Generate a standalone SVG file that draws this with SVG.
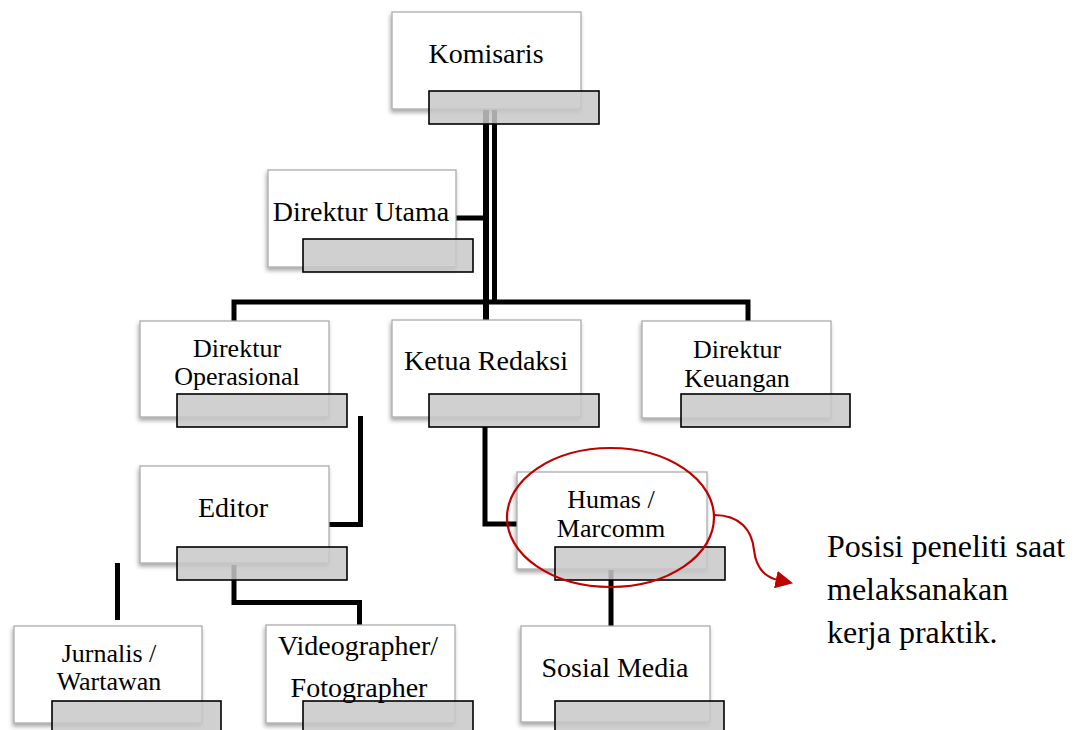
<svg xmlns="http://www.w3.org/2000/svg" width="1086" height="730" viewBox="0 0 1086 730">
<defs>
<filter id="sh" x="-10%" y="-10%" width="120%" height="125%">
<feDropShadow dx="-1" dy="3" stdDeviation="2" flood-color="#000" flood-opacity="0.35"/>
</filter>
<marker id="arr" markerWidth="8" markerHeight="8" refX="1" refY="4" orient="auto" markerUnits="strokeWidth">
<path d="M0,0 L8,4 L0,8 Z" fill="#c00000"/>
</marker>
<style>
.box{fill:#fff;stroke:#a6a6a6;stroke-width:1.2;filter:url(#sh)}
.sub{fill:#c8c8c8;fill-opacity:0.85;stroke:#000;stroke-width:1.6}
.t{font-family:"Liberation Serif","Times New Roman",serif;font-size:28px;fill:#000;text-anchor:middle}
.t2{font-size:26px}
.c{fill:none;stroke:#000;stroke-width:5}
.note{font-family:"Liberation Serif","Times New Roman",serif;font-size:32px;fill:#000}
</style>
</defs>
<rect width="1086" height="730" fill="#fff"/>
<g id="connectors">
<line class="c" x1="486" y1="110" x2="486" y2="320" style="stroke-width:6"/>
<line class="c" x1="494.5" y1="110" x2="494.5" y2="303"/>
<line class="c" x1="456" y1="218" x2="489" y2="218"/>
<path class="c" d="M234,321 V302 H748 V321"/>
<path class="c" d="M329,524.5 H360.5 V416"/>
<path class="c" d="M234,565 V602.5 H359.5 V625"/>
<line class="c" x1="117.5" y1="563" x2="117.5" y2="620"/>
<path class="c" d="M485,427 V524 H517"/>
<line class="c" x1="611" y1="570" x2="611" y2="626"/>
</g>
<g id="komisaris">
<rect class="box" x="392" y="12" width="189" height="97"/>
<rect class="sub" x="429" y="91" width="170" height="33"/>
<text class="t" x="486" y="63">Komisaris</text>
</g>
<g id="direktur-utama">
<rect class="box" x="268" y="170" width="188" height="97"/>
<rect class="sub" x="303" y="239" width="170" height="33"/>
<text class="t" x="361" y="221">Direktur Utama</text>
</g>
<g id="direktur-operasional">
<rect class="box" x="140" y="321" width="189" height="96"/>
<rect class="sub" x="177" y="394" width="170" height="33"/>
<text class="t t2" x="237" y="357">Direktur</text>
<text class="t t2" x="237" y="385">Operasional</text>
</g>
<g id="ketua-redaksi">
<rect class="box" x="392" y="320" width="189" height="97"/>
<rect class="sub" x="429" y="394" width="170" height="33"/>
<text class="t" x="486" y="370">Ketua Redaksi</text>
</g>
<g id="direktur-keuangan">
<rect class="box" x="642" y="321" width="189" height="97"/>
<rect class="sub" x="681" y="394" width="169" height="33"/>
<text class="t t2" x="737" y="358">Direktur</text>
<text class="t t2" x="737" y="387">Keuangan</text>
</g>
<g id="editor">
<rect class="box" x="140" y="466" width="189" height="97"/>
<rect class="sub" x="177" y="547" width="170" height="33"/>
<text class="t" x="233" y="517">Editor</text>
</g>
<g id="humas">
<rect class="box" x="517" y="472" width="190" height="97"/>
<rect class="sub" x="555" y="547" width="170" height="33"/>
<text class="t t2" x="611" y="508">Humas /</text>
<text class="t t2" x="611" y="537">Marcomm</text>
</g>
<g id="jurnalis">
<rect class="box" x="14" y="626" width="188" height="97"/>
<rect class="sub" x="52" y="701" width="169" height="34"/>
<text class="t t2" x="109" y="662">Jurnalis /</text>
<text class="t t2" x="109" y="690">Wartawan</text>
</g>
<g id="videographer">
<rect class="box" x="266" y="625" width="189" height="98"/>
<rect class="sub" x="303" y="701" width="170" height="34"/>
<text class="t" x="358" y="655">Videographer/</text>
<text class="t" x="359" y="697">Fotographer</text>
</g>
<g id="sosial-media">
<rect class="box" x="521" y="626" width="189" height="96"/>
<rect class="sub" x="555" y="701" width="169" height="34"/>
<text class="t" x="615" y="677">Sosial Media</text>
</g>
<g id="highlight">
<ellipse cx="610.5" cy="517.5" rx="103.5" ry="69.5" fill="none" stroke="#c00000" stroke-width="2.2"/>
<path d="M714,515 C740,515 752,530 754,550 C756,568 764,577 778,580" fill="none" stroke="#c00000" stroke-width="2.2" marker-end="url(#arr)"/>
</g>
<g id="note">
<text class="note" x="827" y="557">Posisi peneliti saat</text>
<text class="note" x="827" y="600">melaksanakan</text>
<text class="note" x="827" y="643">kerja praktik.</text>
</g>
</svg>
